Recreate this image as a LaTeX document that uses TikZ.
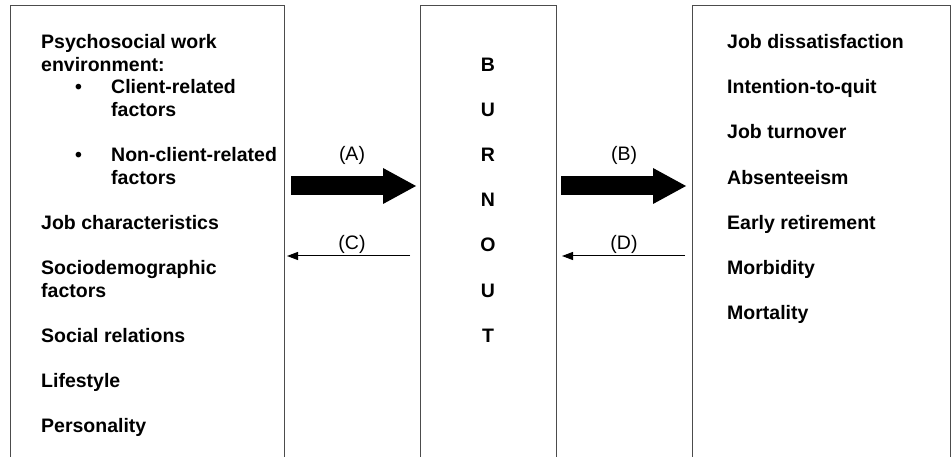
\documentclass[tikz,border=0pt]{standalone}
\usepackage{fontspec}
\setmainfont{Liberation Sans}
\usetikzlibrary{arrows.meta}
\tikzset{
  panel/.style={inner sep=0pt, outer sep=0pt, minimum width=#1, minimum height=451pt, anchor=north west},
  frame/.style={draw=black!70, line width=1pt},
  item/.style={anchor=base west, inner sep=0pt, font=\fontsize{19.5}{22.6}\selectfont\bfseries},
  letter/.style={anchor=base, inner sep=0pt, font=\fontsize{19.5}{22.6}\selectfont\bfseries},
  bigarrow/.style={line width=19pt, -{Triangle[length=33pt,width=36pt,line width=0pt]}},
  thinarrow/.style={line width=1pt, -{Triangle[length=11pt,width=8pt]}},
  arrowlabel/.style={inner sep=0pt, font=\fontsize{19.5}{22.6}\selectfont}
}
\begin{document}
\begin{tikzpicture}[x=1pt,y=-1pt]
\useasboundingbox (0,0) rectangle (951,457);

% the three open-bottomed panels
\node[panel=274pt] (left)  at (10,6)  {};
\node[panel=136pt] (mid)   at (420,6) {};
\node[panel=258pt] (right) at (692,6) {};
\foreach \p in {left,mid,right}
  \draw[frame] (\p.south west) -- (\p.north west) -- (\p.north east) -- (\p.south east);

% causes
\foreach \txt/\row/\id in {Psychosocial work/0/1, environment:/1/2, Job characteristics/8/3,
    Sociodemographic/10/4, factors/11/5, Social relations/13/6, Lifestyle/15/7, Personality/17/8}
  \node[item] (L\id) at (41, 48.5+22.6*\row) {\txt};
\foreach \txt/\row/\id in {Client-related/2/1, factors/3/2, Non-client-related/5/3, factors/6/4}
  \node[item] (S\id) at (111, 48.5+22.6*\row) {\txt};
\node[item] (dot1) at (75, 48.5+22.6*2) {•};
\node[item] (dot2) at (75, 48.5+22.6*5) {•};

% burnout, one letter per line
\foreach \ch [count=\i from 0] in {B,U,R,N,O,U,T}
  \node[letter] (W\i) at (488, 71.1+45.2*\i) {\ch};

% consequences
\foreach \txt/\row in {Job dissatisfaction/0, Intention-to-quit/1, Job turnover/2, Absenteeism/3,
    Early retirement/4, Morbidity/5, Mortality/6}
  \node[item] (R\row) at (727, 48.5+45.2*\row) {\txt};

% paths between panels
\draw[bigarrow, shorten <=7pt, shorten >=4pt] (left.east |- 0,186) -- (mid.west |- 0,186)
  node[arrowlabel, midway, yshift=30.5pt] (labA) {(A)};
\draw[bigarrow, shorten <=5pt, shorten >=6pt] (mid.east |- 0,186) -- (right.west |- 0,186)
  node[arrowlabel, midway, yshift=30.5pt] (labB) {(B)};
\draw[thinarrow, shorten <=10pt, shorten >=3pt] (mid.west |- 0,256) -- (left.east |- 0,256)
  node[arrowlabel, midway, yshift=11.5pt] (labC) {(C)};
\draw[thinarrow, shorten <=7pt, shorten >=6pt] (right.west |- 0,256) -- (mid.east |- 0,256)
  node[arrowlabel, midway, yshift=11.5pt] (labD) {(D)};
\end{tikzpicture}
\end{document}
